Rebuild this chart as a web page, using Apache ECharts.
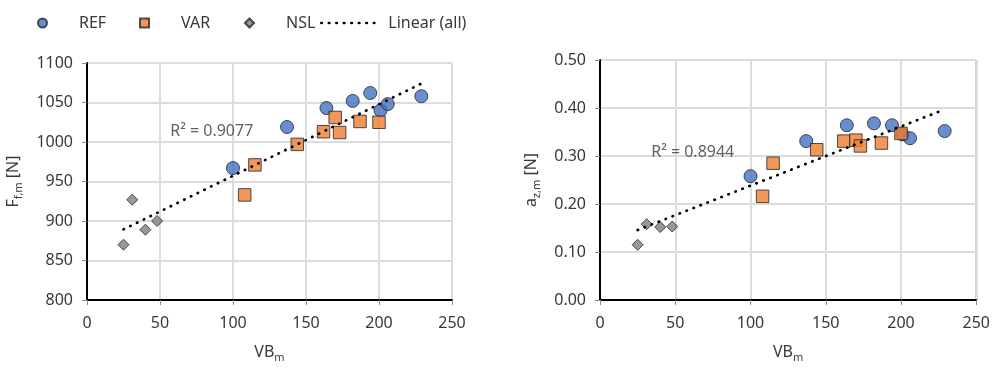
<!DOCTYPE html>
<html>
<head>
<meta charset="utf-8">
<title>VB vs force and acceleration</title>
<script src="https://cdn.jsdelivr.net/npm/echarts@6/dist/echarts.min.js"></script>
<style>
  html, body { margin: 0; padding: 0; background: #fff; }
  #chart { width: 993px; height: 368px; }
</style>
</head>
<body>
<div id="chart"></div>
<script>
// tick labels
const vbTicks = [0, 50, 100, 150, 200, 250];
const forceTicks = [800, 850, 900, 950, 1000, 1050, 1100];
const accTicks = [0, 0.1, 0.2, 0.3, 0.4, 0.5];

// REF series
const refVB = [100, 137, 164, 182, 194, 201, 206, 229];
const refForce = [967, 1019, 1043, 1052, 1062, 1040, 1048, 1058];
const refAcc = [0.258, 0.331, 0.364, 0.368, 0.364, 0.345, 0.337, 0.352];

// VAR series
const varVB = [108, 115, 144, 162, 170, 173, 187, 200];
const varForce = [933, 971, 997, 1013, 1031, 1012, 1026, 1025];
const varAcc = [0.216, 0.285, 0.313, 0.331, 0.333, 0.321, 0.327, 0.347];

// NSL series
const nslVB = [25, 31, 40, 48];
const nslForce = [870, 927, 889, 900];
const nslAcc = [0.115, 0.158, 0.152, 0.153];

const r2Texts = ['R\u00b2 = 0.9077', 'R\u00b2 = 0.8944'];
const r2Anchors = [[57, 1013], [34, 0.308]];

const FONT = 'Noto Sans';
const TEXT = '#383838';

const pairs = (xs, ys) => xs.map((x, i) => [x, ys[i]]);

// least squares over all points, drawn from min x to max x (like the Excel trendline)
function trend(xs, ys) {
  const n = xs.length;
  const mx = xs.reduce((a, b) => a + b, 0) / n;
  const my = ys.reduce((a, b) => a + b, 0) / n;
  let sxy = 0, sxx = 0;
  xs.forEach((x, i) => { sxy += (x - mx) * (ys[i] - my); sxx += (x - mx) * (x - mx); });
  const k = sxy / sxx;
  const x0 = Math.min(...xs), x1 = Math.max(...xs);
  return [[x0, my + k * (x0 - mx)], [x1, my + k * (x1 - mx)]];
}

const allVB = refVB.concat(varVB, nslVB);
const subRich = {
  m: { fontSize: 16, lineHeight: 20, verticalAlign: 'top', fontFamily: FONT, color: TEXT },
  s: { fontSize: 11, lineHeight: 14, verticalAlign: 'top', padding: [8, 0, 0, 0], fontFamily: FONT, color: TEXT }
};

function xAxis(gridIndex) {
  return {
    type: 'value', gridIndex,
    min: vbTicks[0], max: vbTicks[vbTicks.length - 1], interval: vbTicks[1] - vbTicks[0],
    name: '{m|VB}{s|m}', nameLocation: 'middle', nameGap: 44,
    nameTextStyle: { rich: subRich },
    axisLine: { show: true, onZero: false, lineStyle: { color: '#000', width: 2 } },
    axisTick: { show: true, length: 5, lineStyle: { color: '#8c8c8c' } },
    axisLabel: { margin: 15, fontSize: 16, color: TEXT, fontFamily: FONT },
    splitLine: { show: true, lineStyle: { color: '#dcdcdc', width: 2 } }
  };
}

function yAxis(gridIndex, ticks, name, nameGap, fmt) {
  return {
    type: 'value', gridIndex,
    min: ticks[0], max: ticks[ticks.length - 1], interval: +(ticks[1] - ticks[0]).toFixed(6),
    name, nameLocation: 'middle', nameGap, nameRotate: 90,
    nameTextStyle: { rich: subRich },
    axisLine: { show: true, onZero: false, lineStyle: { color: '#000', width: 2 } },
    axisTick: { show: true, length: 5, lineStyle: { color: '#8c8c8c' } },
    axisLabel: { margin: 14, fontSize: 16, color: TEXT, fontFamily: FONT, formatter: fmt },
    splitLine: { show: true, lineStyle: { color: '#dcdcdc', width: 2 } }
  };
}

function panelSeries(i, refY, varY, nslY) {
  const mark = { borderColor: '#262626', borderWidth: 1 };
  return [
    { name: 'REF', type: 'scatter', xAxisIndex: i, yAxisIndex: i, symbol: 'circle', symbolSize: 13,
      itemStyle: Object.assign({ color: '#4472c4' }, mark), data: pairs(refVB, refY) },
    { name: 'VAR', type: 'scatter', xAxisIndex: i, yAxisIndex: i, symbol: 'rect', symbolSize: 12.5,
      itemStyle: Object.assign({ color: '#ed7d31' }, mark), data: pairs(varVB, varY) },
    { name: 'NSL', type: 'scatter', xAxisIndex: i, yAxisIndex: i, symbol: 'diamond', symbolSize: 11,
      itemStyle: Object.assign({ color: '#7f7f7f' }, mark), data: pairs(nslVB, nslY) },
    { name: 'Linear (all)', type: 'line', xAxisIndex: i, yAxisIndex: i, symbol: 'none', z: 5,
      lineStyle: { color: '#000', width: 2.7, type: [0.5, 7], cap: 'round' },
      data: trend(allVB, refY.concat(varY, nslY)) },
    { name: 'r2-' + i, type: 'scatter', xAxisIndex: i, yAxisIndex: i, symbolSize: 0, silent: true,
      label: { show: true, position: 'right', distance: 0, formatter: r2Texts[i],
        fontSize: 16, color: TEXT, fontFamily: FONT },
      data: [r2Anchors[i]] }
  ];
}

function legendItem(name, left, extra) {
  return Object.assign({
    data: [name], left, top: 15, padding: 0, itemWidth: 9, itemHeight: 9,
    selectedMode: false,
    formatter: '{sp| }{name}',
    textStyle: { fontSize: 16, color: TEXT, fontFamily: FONT, rich: { sp: { width: 27 } } }
  }, extra || {});
}

const chart = echarts.init(document.getElementById('chart'));

chart.setOption({
  animation: false,
  backgroundColor: '#fff',
  textStyle: { fontFamily: FONT },
  legend: [
    legendItem('REF', 37),
    legendItem('VAR', 139),
    legendItem('NSL', 244),
    legendItem('Linear (all)', 320, {
      itemWidth: 58,
      lineStyle: { width: 2.7 },
      // hide the circle ECharts puts in the middle of a line legend icon
      itemStyle: { color: 'rgba(0,0,0,0)', borderWidth: 0, opacity: 0 },
      textStyle: { fontSize: 16, color: TEXT, fontFamily: FONT, rich: { sp: { width: 4 } } }
    })
  ],
  grid: [
    { left: 87, top: 63, width: 365, height: 239, show: true, borderColor: '#3a3a3a', borderWidth: 1, backgroundColor: 'transparent' },
    { left: 600, top: 60, width: 378, height: 241, show: true, borderColor: '#3a3a3a', borderWidth: 1, backgroundColor: 'transparent' }
  ],
  xAxis: [xAxis(0), xAxis(1)],
  yAxis: [
    yAxis(0, forceTicks, '{m|F}{s|f,m}{m| [N]}', 62, v => String(v)),
    yAxis(1, accTicks, '{m|a}{s|z,m}{m| [N]}', 57, v => v.toFixed(2))
  ],
  series: panelSeries(0, refForce, varForce, nslForce)
    .concat(panelSeries(1, refAcc, varAcc, nslAcc))
});
</script>
</body>
</html>
